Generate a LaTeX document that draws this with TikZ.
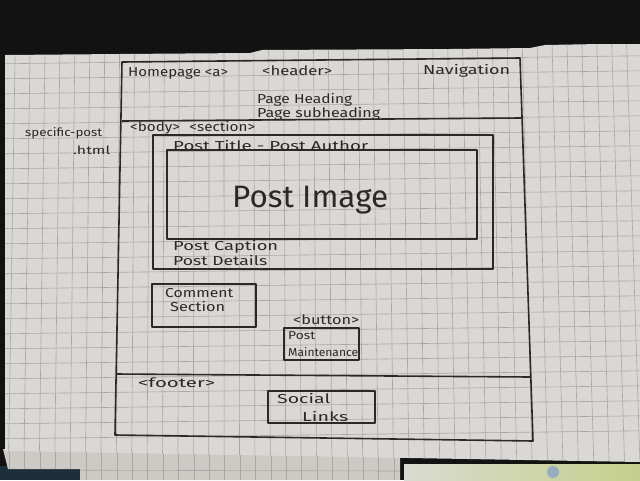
\documentclass[tikz,border=0pt]{standalone}
\usepackage{fontspec}
\usepackage{graphicx}
\setmainfont{Fira Sans}
\definecolor{inkc}{HTML}{2A2928}
\definecolor{paperc}{HTML}{DAD8D4}
\definecolor{gridc}{HTML}{A9A7A3}
\definecolor{deskc}{HTML}{121212}
\definecolor{clothc}{HTML}{1C2F3A}
\definecolor{sheetc}{HTML}{CDCAC5}
\definecolor{blurl}{HTML}{D9DBD1}
\definecolor{blurr}{HTML}{C4D08C}
\definecolor{bluespot}{HTML}{6F95CF}
% handwritten label stretched to a given width
\newcommand\hw[2]{\resizebox{#1pt}{\height}{#2}}
\begin{document}
\begin{tikzpicture}[x=1pt,y=-1pt,
  ink/.style={draw=inkc,line width=1.6pt,line join=round},
  hand/.style={text=inkc,font=\fontsize{13}{14}\selectfont,inner sep=0pt,anchor=west},
  small/.style={font=\fontsize{11.5}{12}\selectfont},
  big/.style={text=inkc,font=\fontsize{31}{32}\selectfont,inner sep=0pt,anchor=west}]
\useasboundingbox (0,0) rectangle (640,480);
% desk and things behind the sheet
\fill[deskc] (0,0) rectangle (640,480);
\fill[clothc] (0,466) rectangle (400,480);
\shade[left color=blurl,right color=blurr] (404,464) rectangle (640,480);
\fill[bluespot,opacity=0.6] (553,472) circle (6);
% lower sheets peeking out below the grid paper
\def\sheetshape{(3,449) -- (400,456) -- (400,480) -- (80,480) -- (80,469) -- (8,469) -- cycle}
\fill[sheetc] \sheetshape;
\begin{scope}
  \clip \sheetshape;
  \foreach \k in {0,...,26} \draw[gridc,line width=0.6pt] (9+\k*15.4,440) -- (9+\k*15.4,480);
  \draw[gridc,line width=0.6pt] (0,470) -- (400,471);
\end{scope}
% the grid paper
\def\papershape{(5,55) -- (120,54) -- (250,53) -- (262,50) -- (450,49) -- (530,48) -- (545,45) -- (600,44) -- (640,44)
  -- (640,462) -- (5,451) -- cycle}
\fill[paperc] \papershape;
\begin{scope}
  \clip \papershape;
  \foreach \k in {-1,...,43} {
    \pgfmathsetmacro\xt{15+14.93*\k}
    \pgfmathsetmacro\xb{\xt-6.6+0.0298*\xt}
    \draw[gridc,line width=0.6pt] (\xt+0.158*\xt-0.158*\xb,0) -- (\xb+0.105*\xb-0.105*\xt,480);
  }
  \foreach \k in {-2,...,28}
    \draw[gridc,line width=0.6pt] (0,78.8-15*4+15*\k) -- (640,70.8-15*4+15*\k);
\end{scope}

% page frame, header and footer
\draw[ink] (122,62) -- (520,58) -- (533,441) -- (115,435) -- cycle;
\draw[ink] (122,121) -- (521,118);
\draw[ink] (116,374) -- (530,377);
% section, image and widget boxes
\draw[ink] (153,135) rectangle (493,269);
\draw[ink] (167,150) rectangle (477,239);
\draw[ink] (152,284) rectangle (256,327);
\draw[ink] (284,328) rectangle (359,360);
\draw[ink] (268,391) rectangle (375,423);

% labels
\node[hand] (home) at (128,73) {\hw{100}{Homepage <a>}};
\node[hand] (hdr) at (262,71) {\hw{70}{<header>}};
\node[hand] (nav) at (423,71) {\hw{87}{Navigation}};
\node[hand] (ph) at (257,100) {\hw{95}{Page Heading}};
\node[hand] (psh) at (257,114) {\hw{123}{Page subheading}};
\node[hand,small] (file) at (25,133) {\hw{77}{specific-post}};
\node[hand,small] (ext) at (73,150) {\hw{37}{.html}};
\node[hand] (body) at (130,128) {\hw{125}{<body>\hspace{8pt}<section>}};
\node[hand] (title) at (173,146) {\hw{195}{Post Title - Post Author}};
\node[big] (img) at (232,200) {\hw{156}{Post Image}};
\node[hand] (cap) at (173,247) {\hw{105}{Post Caption}};
\node[hand] (det) at (173,261) {\hw{94}{Post Details}};
\node[hand] (cm1) at (165,293) {\hw{68}{Comment}};
\node[hand] (cm2) at (170,307) {\hw{55}{Section}};
\node[hand] (btn) at (293,320) {\hw{66}{<button>}};
\node[hand,small] (pm1) at (288,336) {\hw{27}{Post}};
\node[hand,small] (pm2) at (288,352) {\hw{70}{Maintenance}};
\node[hand] (ftr) at (138,383) {\hw{77}{<footer>}};
\node[hand] (sl1) at (277,399) {\hw{53}{Social}};
\node[hand] (sl2) at (302,416) {\hw{46}{Links}};
\end{tikzpicture}
\end{document}
